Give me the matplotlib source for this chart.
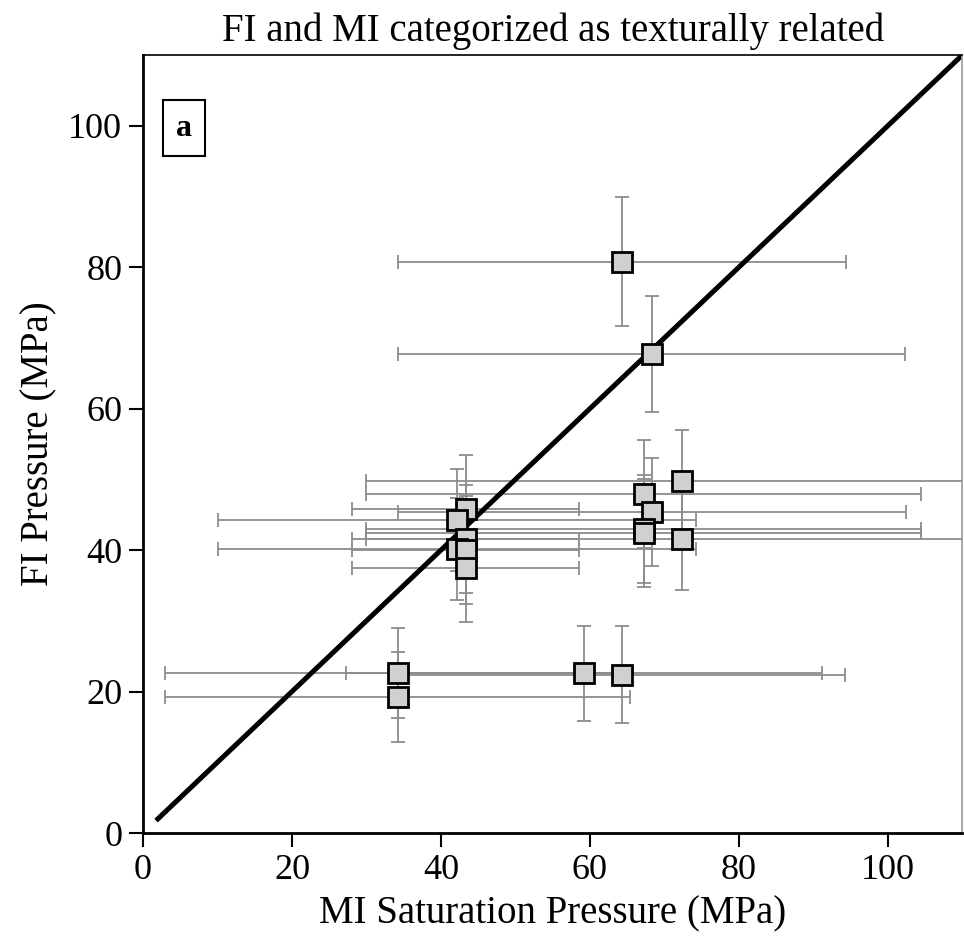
import matplotlib
matplotlib.use("Agg")
from matplotlib import pyplot as plt

# valores (MPa)
mi_sat = [64.3, 68.3, 43.3, 42.2, 43.3, 42.2, 43.3, 43.3, 72.4, 67.2, 68.3, 67.2, 67.2, 72.4, 34.2, 34.2, 59.2, 64.3]
fi_pres = [80.8, 67.7, 45.8, 44.2, 41.6, 40.2, 40.0, 37.4, 49.8, 47.9, 45.4, 43.0, 42.4, 41.6, 22.6, 19.2, 22.6, 22.4]
mi_err = [30.1, 34.0, 15.2, 32.1, 15.2, 32.1, 15.2, 15.2, 42.4, 37.3, 34.1, 37.3, 37.3, 42.4, 31.2, 31.2, 32.0, 30.0]
fi_err = [9.1, 8.2, 7.6, 7.2, 7.6, 7.2, 7.6, 7.6, 7.2, 7.6, 7.6, 7.6, 7.6, 7.2, 6.4, 6.4, 6.7, 6.8]

linea_11 = [2, 110]
ticks = [0, 20, 40, 60, 80, 100]

plt.rcParams['font.family'] = ['Liberation Serif', 'DejaVu Serif']

fig = plt.figure(figsize=(9.64, 9.40), dpi=100)
ax = fig.add_axes([0.1483, 0.1138, 0.850, 0.8277])

ax.errorbar(mi_sat, fi_pres, xerr=mi_err, yerr=fi_err, fmt='none',
            ecolor='#8c8c8c', elinewidth=1.3, capsize=5, capthick=1.3, zorder=1)
ax.plot(linea_11, linea_11, color='black', linewidth=3.6, zorder=2)
ax.plot(mi_sat, fi_pres, linestyle='none', marker='s', markersize=14,
        markerfacecolor='#d0d0d0', markeredgecolor='black', markeredgewidth=2, zorder=3)

ax.set_xlim(0, 110)
ax.set_ylim(0, 110)
ax.set_xticks(ticks)
ax.set_yticks(ticks)
ax.tick_params(direction='out', length=10, width=1.5, labelsize=26, pad=5)

ax.spines['left'].set_linewidth(2)
ax.spines['bottom'].set_linewidth(2)
ax.spines['top'].set_linewidth(1.2)
ax.spines['right'].set_linewidth(1.2)
ax.spines['right'].set_color('#999999')

ax.set_title('FI and MI categorized as texturally related', fontsize=28, pad=10)
ax.set_xlabel('MI Saturation Pressure (MPa)', fontsize=28, labelpad=6)
ax.set_ylabel('FI Pressure (MPa)', fontsize=28, labelpad=8)

ax.text(0.05, 0.906, 'a', transform=ax.transAxes, fontsize=23, fontweight='bold',
        ha='center', va='center',
        bbox=dict(boxstyle='square,pad=0.42', facecolor='white', edgecolor='black', linewidth=1.5))

fig.savefig('out.png', dpi=100)
